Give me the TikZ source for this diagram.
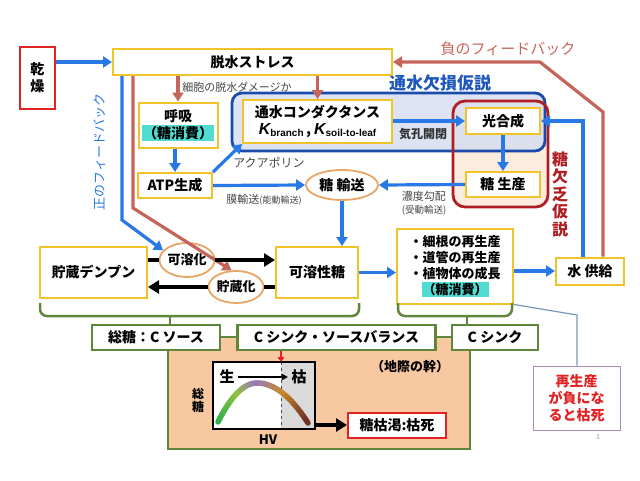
\documentclass[tikz,border=0pt]{standalone}
\usepackage{fontspec}
\setmainfont{Noto Sans CJK JP}
\newfontfamily\latfont{Liberation Sans}
\usetikzlibrary{arrows.meta,shapes.geometric}
\definecolor{boxy}{RGB}{240,195,40}
\definecolor{arrb}{RGB}{40,120,230}
\definecolor{arrr}{RGB}{196,100,90}
\definecolor{hypb}{RGB}{25,75,170}
\definecolor{hypbf}{RGB}{215,222,240}
\definecolor{hypr}{RGB}{175,30,35}
\definecolor{hyprf}{RGB}{252,236,222}
\definecolor{grn}{RGB}{95,135,60}
\definecolor{peach}{RGB}{248,200,160}
\definecolor{hilite}{RGB}{80,220,210}
\definecolor{ovalc}{RGB}{232,165,100}
\definecolor{notec}{RGB}{70,70,70}
\definecolor{calloutc}{RGB}{120,150,190}
\definecolor{regenc}{RGB}{170,140,185}
\definecolor{alarm}{RGB}{225,35,35}
\definecolor{hvgrey}{RGB}{218,218,218}
\definecolor{hv0}{RGB}{40,175,75}
\definecolor{hv1}{RGB}{145,195,60}
\definecolor{hv2}{RGB}{150,120,195}
\definecolor{hv3}{RGB}{200,140,40}
\definecolor{hv4}{RGB}{110,45,40}
\newcommand\fsz[2]{\fontsize{#1}{#2}\selectfont}
\setlength{\fboxsep}{1pt}
\tikzstyle{ybox} = [draw=boxy, line width=2pt, fill=white, inner sep=1pt,
  align=center, font=\bfseries\fsz{14}{17}]
\tikzstyle{gbox} = [draw=grn, line width=2.2pt, fill=white, inner sep=1pt,
  font=\bfseries\fsz{14}{17}]
\tikzstyle{oval} = [ellipse, draw=ovalc, line width=1.8pt, fill=white,
  inner sep=0pt, font=\bfseries\fsz{14}{17}]
\tikzstyle{barrow} = [draw=arrb, line width=3.2pt,
  -{Triangle[length=9pt,width=11pt]}]
\tikzstyle{rarrow} = [draw=arrr, line width=3.2pt,
  -{Triangle[length=9pt,width=11pt]}]
\tikzstyle{karrow} = [draw=black, line width=3.5pt,
  -{Triangle[length=11pt,width=13pt]}]
\tikzstyle{note} = [text=notec, inner sep=0pt, font=\fsz{11}{13}]
\tikzstyle{brace} = [draw=grn, line width=2.5pt, rounded corners=7]

\begin{document}
\begin{tikzpicture}[x=1pt,y=-1pt]
  \useasboundingbox (0,0) rectangle (640,480);

  % Hypotheses
  \fill[hyprf, rounded corners=12] (453,101) rectangle (548,207);
  \fill[hypbf, opacity=0.85, rounded corners=10] (232,93) rectangle (545,151);
  \draw[hypb, line width=2.8pt, rounded corners=10] (232,93) rectangle (545,151);
  \draw[hypr, line width=2.8pt, rounded corners=12] (453,101) rectangle (548,207);
  \node[text=hypb!70!arrb, font=\bfseries\fsz{17}{17}] (waterhyp) at (440,83) {通水欠損仮説};
  \node[text=hypr, align=center, font=\bfseries\fsz{16}{17.5}] (sugarhyp) at (560,194) {糖\\欠\\乏\\仮\\説};

  % Trunk panel
  \draw[grn, line width=2.5pt, fill=peach] (168,337) rectangle (470,449);

  % Boxes
  \node[ybox, draw=alarm, minimum width=35, minimum height=62] (dry) at (37.5,78) {乾\\燥};
  \node[ybox, minimum width=279, minimum height=26] (stress) at (252.5,62) {脱水ストレス};
  \node[ybox, minimum width=79, minimum height=45] (resp) at (178,125) {呼吸\\\colorbox{hilite}{（糖消費）}};
  \node[ybox, minimum width=74, minimum height=25] (atp) at (175,185.5) {ATP生成};
  \node[ybox, minimum width=149, minimum height=43] (cond) at (317.5,121.5)
    {通水コンダクタンス\\{\latfont\bfseries\itshape\fsz{16}{17}K}\raisebox{-1.5pt}{\latfont\bfseries\fsz{10}{10}branch}\,,
     {\latfont\bfseries\itshape\fsz{16}{17}K}\raisebox{-1.5pt}{\latfont\bfseries\fsz{10}{10}soil-to-leaf}};
  \node[ybox, minimum width=74, minimum height=26] (photo) at (503,121) {光合成};
  \node[ybox, minimum width=74, minimum height=25] (sprod) at (503,184.5) {糖 生産};
  \node[oval, minimum width=72, minimum height=30] (trans) at (342,185) {糖 輸送};
  \node[ybox, minimum width=107, minimum height=51] (starch) at (93.5,272.5) {貯蔵デンプン};
  \node[ybox, minimum width=82, minimum height=51] (soluble) at (317,272.5) {可溶性糖};
  \node[ybox, minimum width=116, minimum height=75, font=\bfseries\fsz{13}{16}] (growth) at (455,266)
    {・細根の再生産\\・道管の再生産\\・植物体の成長\\\colorbox{hilite}{（糖消費）}};
  \node[ybox, minimum width=68, minimum height=27] (water) at (590,271) {水 供給};
  \node[oval, minimum width=52, minimum height=34, font=\bfseries\fsz{13}{15}] (solub) at (187,260) {可溶化};
  \node[oval, minimum width=55, minimum height=32, font=\bfseries\fsz{13}{15}] (storage) at (236,287) {貯蔵化};

  % Labels
  \node[note] (dmg) at (237,87) {細胞の脱水ダメージか};
  \node[note, font=\fsz{12}{13}] (aqp) at (269,163) {アクアポリン};
  \node[note] (memb) at (264,200) {膜輸送{\fsz{9}{10}(能動輸送)}};
  \node[note, align=left] (grad) at (424,203) {濃度勾配\\{\fsz{9.5}{11}(受動輸送)}};
  \node[note, text=black!80, font=\bfseries\fsz{12}{12}] (stoma) at (423,134) {気孔開閉};
  \node[text=arrr, font=\fsz{15}{15}] (negfb) at (508,49) {負のフィードバック};
  \node[text=arrb, rotate=90, font=\fsz{13}{13}] (posfb) at (100,152) {正のフィードバック};

  % Blue arrows
  \draw[barrow] (dry.east |- stress) -- (stress.west);
  \draw[barrow] (resp.south -| atp.north) -- (atp.north);
  \draw[barrow] (atp.north east) -- (cond.south west);
  \draw[barrow] (atp.east) -- (trans.west);
  \draw[barrow] (cond.east |- photo) -- (photo.west);
  \draw[barrow] (photo.south) -- (sprod.north);
  \draw[barrow] (sprod.west) -- (trans.east);
  \draw[barrow] (trans.south) -- (trans.south |- soluble.north);
  \draw[barrow] (soluble.east) -- (soluble.east -| growth.west);
  \draw[barrow] (growth.east |- water) -- (water.west);
  \coordinate (fbw) at (583,121);
  \draw[barrow] (water.north -| fbw) -- (fbw) -- (photo.east);
  \coordinate (pf) at (122,220);
  \draw[barrow] (stress.south -| pf) -- (pf) -- (solub.158);

  % Red arrows
  \draw[rarrow] (stress.south -| resp.north) -- (resp.north);
  \draw[rarrow] (stress.south -| cond.north) -- (cond.north);
  \coordinate (nf1) at (603,112);
  \coordinate (nf2) at (540,62);
  \draw[rarrow] (water.north -| nf1) -- (nf1) -- (nf2) -- (stress.east);
  \coordinate (sf) at (133,208);
  \draw[rarrow] (stress.south -| sf) -- (sf) -- (storage.105);

  % Starch <-> sugar
  \draw[line width=3.5pt] (starch.east |- solub) -- (solub.west);
  \draw[karrow] (solub.east) -- (soluble.west |- solub);
  \draw[line width=3.5pt] (soluble.west |- storage) -- (storage.east);
  \draw[karrow] (storage.west) -- (starch.east |- storage);

  % Braces
  \draw[brace] (40,303) |- (359,316) -- (359,303);
  \draw[brace] (398,303) |- (512,316) -- (512,303);
  \coordinate (br1) at (170,316);
  \coordinate (br2) at (467,316);

  % Green boxes
  \node[gbox, minimum width=128, minimum height=25] (src) at (156,337.5) {総糖：C ソース};
  \node[gbox, minimum width=198, minimum height=25] (bal) at (336.5,337.5) {C シンク・ソースバランス};
  \node[gbox, minimum width=86, minimum height=25] (sink) at (495,337.5) {C シンク};
  \draw[grn, line width=2.5pt] (br1) -- (br1 |- src.north);
  \draw[grn, line width=2.5pt] (br2) -- (br2 |- sink.north);
  \node[font=\bfseries\fsz{13}{13}] (trunk) at (410,367) {（地際の幹）};

  % HV graph
  \fill[white] (213,362) rectangle (281,429);
  \fill[hvgrey] (281,362) rectangle (315,429);
  \draw[dashed, black!70] (281,362) -- (281,429);
  \draw[line width=1.2pt] (213,362) rectangle (315,429);
  \foreach \xa/\xb/\ca/\cb in {218/237/hv0/hv1, 237/257/hv1/hv2, 257/284/hv2/hv3, 284/308/hv3/hv4} {
    \foreach \s in {0,...,9} {
      \pgfmathsetmacro\xp{\xa+(\xb-\xa)*\s/10}
      \pgfmathsetmacro\xq{\xa+(\xb-\xa)*(\s+1)/10}
      \pgfmathsetmacro\kp{\xp<257 ? 0.0256 : 0.0154}
      \pgfmathsetmacro\kq{\xq<257 ? 0.0256 : 0.0154}
      \pgfmathsetmacro\yp{383+\kp*(\xp-257)^2}
      \pgfmathsetmacro\yq{383+\kq*(\xq-257)^2}
      \pgfmathtruncatemacro\pc{95-10*\s}
      \draw[line width=5.5pt, line cap=round, color=\ca!\pc!\cb] (\xp,\yp) -- (\xq,\yq);
    }
  }
  \node[font=\bfseries\fsz{15}{15}] (alive) at (227,377) {生};
  \node[font=\bfseries\fsz{15}{15}] (dead) at (299,377) {枯};
  \draw[line width=1.5pt, -{Triangle[length=6pt,width=6pt]}] (alive) -- (dead);
  \coordinate (hvtop) at (281,362);
  \draw[draw=alarm, line width=2.5pt, -{Triangle[length=5pt,width=7pt]}] (bal.south -| hvtop) -- (hvtop);
  \node[align=center, font=\bfseries\fsz{12}{13}] (total) at (198,400) {総\\糖};
  \node[font=\bfseries\fsz{13}{13}] (hv) at (268,440) {HV};
  \node[ybox, draw=alarm, minimum width=98, minimum height=25] (die) at (397,425) {糖枯渇:枯死};
  \coordinate (hvend) at (315,425);
  \draw[karrow] (hvend) -- (die.west);

  % Callout
  \node[draw=regenc, line width=1pt, fill=white, minimum width=87, minimum height=64,
    text=alarm, align=center, font=\bfseries\fsz{14}{17}] (regen) at (576.5,398)
    {再生産\\が負にな\\ると枯死};
  \coordinate (co) at (577,315);
  \draw[calloutc, line width=1.2pt] (growth.south east) -- (co) -- (co |- regen.north);
  \node[text=black!40, font=\fsz{7}{7}] (page) at (598,437) {1};
\end{tikzpicture}
\end{document}
